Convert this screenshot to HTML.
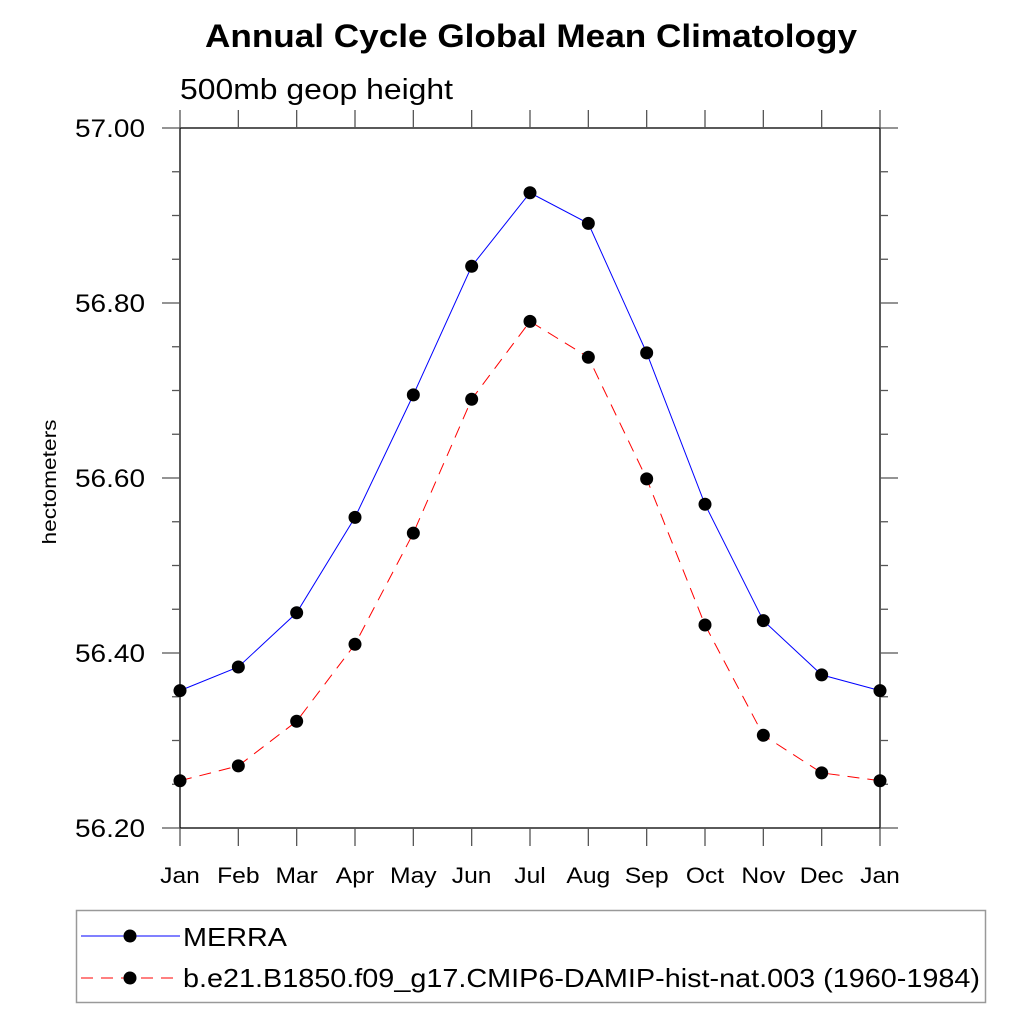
<!DOCTYPE html>
<html><head><meta charset="utf-8"><style>
body{margin:0;background:#fff;}
svg{display:block;font-family:"Liberation Sans",sans-serif;}
</style></head><body>
<svg id="chart" width="1024" height="1024" viewBox="0 0 1024 1024">
<text x="531" y="47" text-anchor="middle" font-size="32" font-weight="bold" textLength="652" lengthAdjust="spacingAndGlyphs">Annual Cycle Global Mean Climatology</text>
<text x="180" y="99" font-size="29" textLength="273" lengthAdjust="spacingAndGlyphs">500mb geop height</text>
<text transform="translate(56,482) rotate(-90)" text-anchor="middle" font-size="19" textLength="125" lengthAdjust="spacingAndGlyphs">hectometers</text>
<g id="axes"></g>
<g id="series"></g>
<rect x="76.5" y="910.5" width="909" height="92" fill="none" stroke="#999" stroke-width="1.5"/>
<g>
<line x1="81" y1="936" x2="180" y2="936" stroke="#0000ff" stroke-width="1"/>
<circle cx="130" cy="936" r="6.5" fill="#000"/>
<text x="183" y="946" font-size="26" textLength="104" lengthAdjust="spacingAndGlyphs">MERRA</text>
</g>
<g>
<line x1="81" y1="978" x2="180" y2="978" stroke="#ff0000" stroke-width="1" stroke-dasharray="12,8"/>
<circle cx="130" cy="978" r="6.5" fill="#000"/>
<text x="183" y="987" font-size="26" textLength="797" lengthAdjust="spacingAndGlyphs">b.e21.B1850.f09_g17.CMIP6-DAMIP-hist-nat.003 (1960-1984)</text>
</g>
</svg>
<script>
const months=["Jan","Feb","Mar","Apr","May","Jun","Jul","Aug","Sep","Oct","Nov","Dec","Jan"];
const merra=[56.357,56.384,56.446,56.555,56.695,56.842,56.926,56.891,56.743,56.570,56.437,56.375,56.357];
const model=[56.254,56.271,56.322,56.410,56.537,56.690,56.779,56.738,56.599,56.432,56.306,56.263,56.254];
const yTicks=["56.20","56.40","56.60","56.80","57.00"];
const L=180,R=880,T=128,B=828,yMin=56.2,yMax=57.0;
const xs=i=>L+i*(R-L)/(months.length-1);
const ys=v=>B-(v-yMin)/(yMax-yMin)*(B-T);
const NS="http://www.w3.org/2000/svg";
function mk(tag,attrs,parent){const e=document.createElementNS(NS,tag);for(const k in attrs)e.setAttribute(k,attrs[k]);parent.appendChild(e);return e;}
const ax=document.getElementById('axes');
const frame=mk('rect',{x:L,y:T,width:R-L,height:B-T,fill:'none',stroke:'#000','stroke-width':1.3},ax);


months.forEach((m,i)=>{
  const x=xs(i);
  mk('line',{x1:x,y1:B,x2:x,y2:B+18,stroke:'#555','stroke-width':1.3},ax);
  mk('line',{x1:x,y1:T,x2:x,y2:T-18,stroke:'#555','stroke-width':1.3},ax);
  const t=mk('text',{x:x,y:883,'text-anchor':'middle','font-size':22},ax);
  t.textContent=m;
  
  
  const w=t.getComputedTextLength();
  if(w>0){t.setAttribute('textLength',(w*1.12).toFixed(1));t.setAttribute('lengthAdjust','spacingAndGlyphs');}
});
for(let k=0;k<=16;k++){
  const v=yMin+k*0.05,y=ys(v),major=k%4===0,len=major?18:8;
  mk('line',{x1:L,y1:y,x2:L-len,y2:y,stroke:'#555','stroke-width':1.3},ax);
  mk('line',{x1:R,y1:y,x2:R+len,y2:y,stroke:'#555','stroke-width':1.3},ax);
}
yTicks.forEach(s=>{
  const t=mk('text',{x:75,y:ys(parseFloat(s))+9,'font-size':25,textLength:70,lengthAdjust:'spacingAndGlyphs'},ax);
  t.textContent=s;
  
  
});
const sg=document.getElementById('series');
function drawSeries(data,color,dash,name){
  const p=mk('polyline',{points:data.map((v,i)=>xs(i)+','+ys(v)).join(' '),fill:'none',stroke:color,'stroke-width':1,'stroke-dasharray':dash},sg);
  
  
  data.forEach((v,i)=>{
    const c=mk('circle',{cx:xs(i),cy:ys(v),r:6.5,fill:'#000'},sg);
    
    
  });
}
drawSeries(merra,'#0000ff','none','merra');
drawSeries(model,'#ff0000','12,8','model');
</script>
</body></html>
